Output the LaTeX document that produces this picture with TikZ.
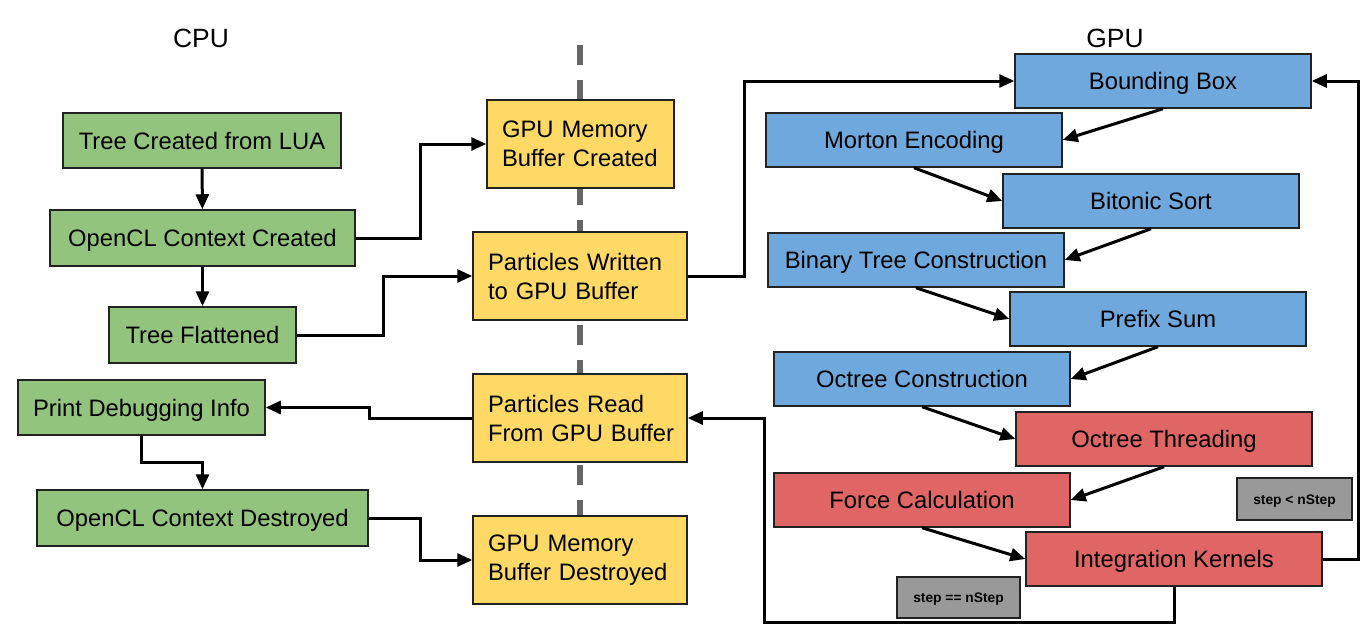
\documentclass[tikz,border=0pt]{standalone}
\usepackage{fontspec}
\setmainfont{Liberation Sans}
\usetikzlibrary{arrows.meta}
\definecolor{cgreen}{HTML}{93C47D}
\definecolor{cyellow}{HTML}{FFD966}
\definecolor{cblue}{HTML}{6FA8DC}
\definecolor{cred}{HTML}{E06666}
\definecolor{cgray}{HTML}{999999}
\definecolor{cdash}{HTML}{666666}
\definecolor{cborder}{HTML}{222222}
\tikzset{
  sz/.style 2 args={minimum width=#1*0.5pt, minimum height=#2*0.5pt},
  base/.style={draw=cborder, line width=0.75pt, inner sep=0pt, font=\fontsize{11.9}{14.5}\selectfont},
  oneline/.style={text height=8.5pt, text depth=0pt},
  gbox/.style={base, oneline, fill=cgreen},
  ybox/.style={base, fill=cyellow, align=left, inner xsep=7.5pt},
  bbox/.style={base, oneline, fill=cblue},
  rbox/.style={base, oneline, fill=cred},
  cbox/.style={draw=cborder, line width=0.75pt, fill=cgray, inner sep=0pt, text height=5pt, text depth=0pt, font=\bfseries\fontsize{6.9}{8}\selectfont},
  conn/.style={line width=1.5pt, -{Triangle[length=7.5pt,width=6.5pt]}},
  sepline/.style={line width=3pt, draw=cdash, dash pattern=on 10pt off 7.5pt},
  ttl/.style={font=\fontsize{13.2}{15}\selectfont}
}
\begin{document}
\begin{tikzpicture}[x=0.5pt,y=-0.5pt]
\useasboundingbox (0,0) rectangle (1372,632);
\draw[sepline] (580,45) -- (580,604);
% titles
\node[ttl] (cpu) at (201,38) {CPU};
\node[ttl] (gpu) at (1115,38) {GPU};
% CPU side
\node[gbox, sz={278}{55}] (tc) at (202,140.5) {Tree Created from LUA};
\node[gbox, sz={305}{56}] (ctxc) at (202.5,238) {OpenCL Context Created};
\node[gbox, sz={187}{56}] (tf) at (202.5,335) {Tree Flattened};
\node[gbox, sz={247}{55}] (pd) at (141.5,407.5) {Print Debugging Info};
\node[gbox, sz={331}{56}] (ocd) at (202.5,518) {OpenCL Context Destroyed};
% middle
\node[ybox, sz={187}{88}, text width=78.5pt] (gmc) at (580.5,144) {GPU Memory\\Buffer Created};
\node[ybox, sz={214}{88}, text width=92pt] (pw) at (580,276) {Particles Written\\to GPU Buffer};
\node[ybox, sz={214}{88}, text width=92pt] (pr) at (580,418) {Particles Read\\\mbox{From GPU Buffer}};
\node[ybox, sz={214}{88}, text width=92pt] (gmd) at (580,560) {GPU Memory\\\mbox{Buffer Destroyed}};
% GPU side
\node[bbox, sz={296}{54}] (bb) at (1163,81) {Bounding Box};
\node[bbox, sz={296}{54}] (me) at (914,140) {Morton Encoding};
\node[bbox, sz={296}{54}] (bs) at (1151,201) {Bitonic Sort};
\node[bbox, sz={296}{54}] (btc) at (916,260) {Binary Tree Construction};
\node[bbox, sz={296}{54}] (ps) at (1158,319) {Prefix Sum};
\node[bbox, sz={296}{54}] (oc) at (922,379) {Octree Construction};
\node[rbox, sz={296}{54}] (ot) at (1164,439) {Octree Threading};
\node[rbox, sz={296}{54}] (fc) at (922,500) {Force Calculation};
\node[rbox, sz={296}{54}] (ik) at (1174,559) {Integration Kernels};
\node[cbox, sz={115}{42}] (lt) at (1294.5,499) {step < nStep};
\node[cbox, sz={123}{41}] (eq) at (958.5,597.5) {step == nStep};
% connectors
\draw[conn] (tc) -- (ctxc);
\draw[conn] (ctxc) -- (tf);
\draw[conn] (ctxc.east) -- ++(65,0) |- (gmc.west);
\draw[conn] (tf.east) -- ++(87,0) |- (pw.west);
\draw[conn] (pw.east) -- ++(57,0) |- (bb.west);
\draw[conn] (bb.south) -- (me.east);
\draw[conn] (me.south) -- (bs.west);
\draw[conn] (bs.south) -- (btc.east);
\draw[conn] (btc.south) -- (ps.west);
\draw[conn] (ps.south) -- (oc.east);
\draw[conn] (oc.south) -- (ot.west);
\draw[conn] (ot.south) -- (fc.east);
\draw[conn] (fc.south) -- (ik.west);
\draw[conn] (ik.east) -- ++(36,0) |- (bb.east);
\draw[conn] (ik.south) -- ++(0,36) -- ++(-410,0) |- (pr.east);
\draw[conn] (pr.west) -- ++(-103,0) |- (pd.east);
\draw[conn] (pd.south) -- ++(0,27) -| (ocd.north);
\draw[conn] (ocd.east) -- ++(52,0) |- (gmd.west);
\end{tikzpicture}
\end{document}
